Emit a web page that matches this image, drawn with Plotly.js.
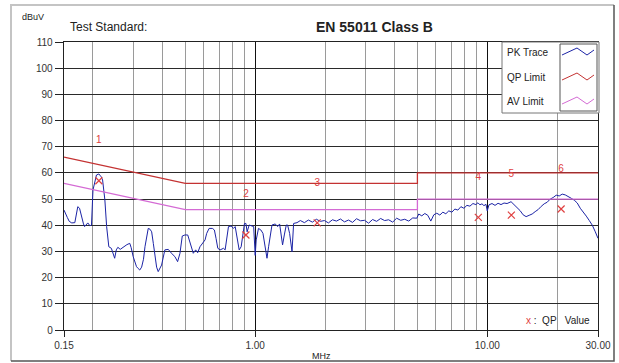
<!DOCTYPE html>
<html><head><meta charset="utf-8">
<script src="https://cdn.plot.ly/plotly-3.0.1.min.js"></script>
<style>html,body{margin:0;padding:0;background:#fff;}#c{width:619px;height:363px;}</style>
</head><body><div id="c"></div>
<script>
// ---------- DATA ----------
const pkFreq = [
0.150,0.152,0.155,0.158,0.162,0.167,0.170,0.172,0.175,0.178,0.182,0.184,0.188,0.190,0.194,0.197,
0.200,0.204,0.207,0.212,0.217,0.220,0.225,0.229,0.234,0.240,0.244,0.248,0.252,0.256,0.262,0.268,
0.274,0.280,0.288,0.292,0.298,0.303,0.308,0.313,0.318,0.324,0.330,0.335,0.340,0.346,0.352,0.358,
0.364,0.370,0.376,0.382,0.395,0.408,0.422,0.436,0.451,0.463,0.474,0.485,0.498,0.512,0.520,0.533,
0.541,0.554,0.565,0.578,0.592,0.608,0.618,0.633,0.654,0.667,0.678,0.690,0.706,0.730,0.742,0.755,
0.767,0.788,0.806,0.820,0.833,0.853,0.870,0.885,0.899,0.912,0.923,0.942,0.968,0.985,1.000,1.010,
1.033,1.058,1.080,1.105,1.124,1.142,1.161,1.181,1.220,1.249,1.274,1.292,1.312,1.335,1.361,1.379,
1.407,1.441,1.464,1.514,1.565,1.629,1.695,1.764,1.835,1.910,1.987,2.068,2.152,2.239,2.330,2.425,
2.523,2.626,2.733,2.844,2.959,3.080,3.205,3.335,3.471,3.612,3.758,3.911,4.070,4.236,4.408,4.587,
4.773,4.967,5.067,5.221,5.380,5.542,5.710,5.884,6.061,6.245,6.435,6.628,6.829,7.037,7.249,7.469,
7.696,7.930,8.170,8.418,8.673,8.935,9.116,9.298,9.486,9.676,9.872,10.00,10.17,10.48,10.80,11.13,
11.46,11.81,12.17,12.66,13.05,13.44,13.85,14.27,14.70,15.15,15.61,16.08,16.57,17.07,17.59,18.12,
18.67,19.23,19.82,20.42,21.04,21.67,22.33,23.01,23.70,24.42,25.16,25.92,26.71,27.52,28.36,29.21,30.00
];
const pkLevel = [
45.8,44.5,43.0,41.5,40.9,41.0,44.5,47.1,46.5,43.5,40.5,39.5,40.2,40.9,39.8,40.1,
53.5,57.5,59.2,59.6,58.5,57.3,49.7,39.5,31.8,31.2,29.0,27.4,30.6,31.6,30.8,31.5,
32.1,32.6,33.1,31.5,28.0,26.0,24.2,23.5,22.9,24.0,27.0,31.8,35.5,38.8,38.5,37.5,
33.0,29.0,24.0,22.3,24.8,30.6,30.8,29.3,28.0,26.1,29.3,35.9,36.3,36.3,34.4,31.2,
29.3,30.6,29.5,31.8,33.1,34.4,36.9,38.8,38.8,38.2,35.0,31.2,30.6,31.2,30.6,35.0,
39.5,39.7,38.8,39.5,35.6,30.6,31.8,35.6,40.7,40.7,37.5,40.1,39.7,39.5,28.5,34.4,
38.8,38.2,36.9,31.8,27.4,31.8,36.9,40.1,40.5,39.5,40.5,36.9,32.5,36.3,40.1,40.1,
36.9,29.9,40.7,41.0,41.8,41.0,42.0,41.2,42.3,41.5,41.8,40.9,42.1,41.6,42.4,41.3,
42.0,41.1,42.5,41.7,41.9,40.8,42.2,41.5,42.6,41.8,42.1,41.2,42.7,41.9,42.3,41.6,
42.8,42.7,44.3,43.6,44.5,43.8,41.6,44.0,44.6,43.9,45.0,44.4,45.5,45.0,46.2,45.8,
47.1,46.5,47.6,47.3,48.3,47.9,48.6,47.8,48.2,47.5,48.0,45.5,47.8,48.3,47.6,48.4,
47.9,48.5,48.3,49.0,47.8,46.5,45.6,44.0,43.3,43.8,44.3,45.2,46.0,47.2,48.2,48.8,
50.0,50.6,51.5,51.2,51.9,51.6,50.8,50.3,49.6,48.5,46.5,45.2,43.5,41.8,40.0,37.5,35.0
];
const qpLimitFreq  = [0.15, 0.5, 5, 5, 30];
const qpLimitLevel = [66, 56, 56, 60, 60];
const avLimitFreq  = [0.15, 0.5, 5, 5, 30];
const avLimitLevel = [56, 46, 46, 50, 50];
const qpFreq  = [0.212, 0.912, 1.85, 9.15, 12.7, 20.8];
const qpValue = [57.0, 36.3, 40.9, 43.0, 43.9, 46.2];
const qpLabels = ['1','2','3','4','5','6'];
const qpLabelLevel = [72.3, 51.6, 56.0, 58.3, 59.5, 61.4];
const xTickVals = [0.15, 1, 10, 30];
const xTickText = ['0.15', '1.00', '10.00', '30.00'];
const xMinorVals = [0.2,0.3,0.4,0.5,0.6,0.7,0.8,0.9,2,3,4,5,6,7,8,9,20];
const legendNames = ['PK Trace', 'QP Limit', 'AV Limit'];

// ---------- LAYOUT HELPERS ----------
const PL = 64, PR = 598, PT = 42, PB = 330;
const fx = p => (p - PL) / (PR - PL);
const fy = p => (PB - p) / (PB - PT);
const FONT = 'Arial, "Liberation Sans", sans-serif';
const cPK = '#1c24a6', cQP = '#c43232', cAV = '#d46ad4', cMark = '#e04040';

const traces = [
  {x: pkFreq, y: pkLevel, mode: 'lines', line: {color: cPK, width: 1}, hoverinfo: 'skip'},
  {x: qpLimitFreq, y: qpLimitLevel, mode: 'lines', line: {color: cQP, width: 1.3}},
  {x: avLimitFreq, y: avLimitLevel, mode: 'lines', line: {color: cAV, width: 1.3}},
  {x: qpFreq, y: qpValue, mode: 'markers',
   marker: {symbol: 'x-thin', size: 7, color: cMark, line: {color: cMark, width: 1.2}}},
  {x: qpFreq, y: qpLabelLevel, mode: 'text', text: qpLabels,
   textfont: {family: FONT, size: 10, color: cMark}, textposition: 'middle center'}
];

const shapes = [];
// outer frame
shapes.push({type:'path', xref:'paper', yref:'paper', layer:'above',
  path:`M${fx(11)},${fy(361)} L${fx(11)},${fy(5)} L${fx(614)},${fy(5)}`,
  line:{color:'#c4c4c4', width:2}});
shapes.push({type:'path', xref:'paper', yref:'paper', layer:'above',
  path:`M${fx(614)},${fy(5)} L${fx(614)},${fy(361)} L${fx(11)},${fy(361)}`,
  line:{color:'#555', width:1.5}});
// legend box
shapes.push({type:'rect', xref:'paper', yref:'paper', layer:'above',
  x0:fx(502), x1:fx(599), y0:fy(113), y1:fy(42), fillcolor:'#fff', line:{color:'#777', width:1}});
shapes.push({type:'rect', xref:'paper', yref:'paper', layer:'above',
  x0:fx(560), x1:fx(597), y0:fy(111), y1:fy(44), fillcolor:'#fff', line:{color:'#555', width:1}});
const legendColors = [cPK, cQP, cAV];
const legendY = [52, 77, 101];
legendY.forEach((cy, i) => {
  const pts = [[562, cy+3], [577, cy-4], [587, cy+3], [594, cy-2]];
  shapes.push({type:'path', xref:'paper', yref:'paper', layer:'above',
    path: pts.map((p, j) => (j ? 'L' : 'M') + fx(p[0]) + ',' + fy(p[1])).join(' '),
    line:{color: legendColors[i], width:1}});
});

const annotations = [
  {text:'dBuV', x:fx(20), y:fy(17), xanchor:'left', yanchor:'middle', font:{family:FONT, size:9, color:'#222'}},
  {text:'Test Standard:', x:fx(68), y:fy(27), xanchor:'left', yanchor:'middle', font:{family:FONT, size:12, color:'#222'}},
  {text:'<b>EN 55011 Class B</b>', x:fx(374), y:fy(27), xanchor:'center', yanchor:'middle', font:{family:FONT, size:14, color:'#222'}},
  {text:'MHz', x:fx(321), y:fy(356), xanchor:'center', yanchor:'middle', font:{family:FONT, size:9, color:'#222'}},
  {text:`<span style="color:${cMark}">x</span> :  QP   Value`, x:fx(558), y:fy(320), xanchor:'center', yanchor:'middle', font:{family:FONT, size:10, color:'#222'}}
];
legendNames.forEach((n, i) => annotations.push(
  {text:n, x:fx(505), y:fy(legendY[i]), xanchor:'left', yanchor:'middle', font:{family:FONT, size:10, color:'#222'}}));
annotations.forEach(a => { a.xref = 'paper'; a.yref = 'paper'; a.showarrow = false; });

const layout = {
  width: 619, height: 363,
  margin: {l: PL, r: 619 - PR, t: PT, b: 363 - PB, pad: 0},
  paper_bgcolor: '#fff', plot_bgcolor: '#fff',
  showlegend: false,
  font: {family: FONT, size: 10, color: '#333'},
  xaxis: {
    type: 'log', range: [Math.log10(0.15), Math.log10(30)],
    tickmode: 'array', tickvals: xTickVals, ticktext: xTickText,
    ticks: 'outside', ticklen: 6, tickcolor: '#222', tickwidth: 1,
    showgrid: true, gridcolor: '#111', gridwidth: 1.4,
    minor: {tickmode: 'array', tickvals: xMinorVals, showgrid: true, gridcolor: '#9a9a9a', gridwidth: 1, ticks: ''},
    showline: true, mirror: true, linecolor: '#222', linewidth: 1.3,
    zeroline: false, fixedrange: true,
    tickfont: {family: FONT, size: 10, color: '#333'}
  },
  yaxis: {
    range: [0, 110], tickmode: 'linear', tick0: 0, dtick: 10,
    ticks: 'outside', ticklen: 8, tickcolor: '#222', tickwidth: 1,
    showgrid: true, gridcolor: '#2a2a2a', gridwidth: 1,
    showline: true, mirror: true, linecolor: '#222', linewidth: 1.3,
    zeroline: false, fixedrange: true,
    tickfont: {family: FONT, size: 10, color: '#333'}
  },
  shapes: shapes,
  annotations: annotations
};

Plotly.newPlot('c', traces, layout, {staticPlot: true, displayModeBar: false});
</script>
</body></html>
